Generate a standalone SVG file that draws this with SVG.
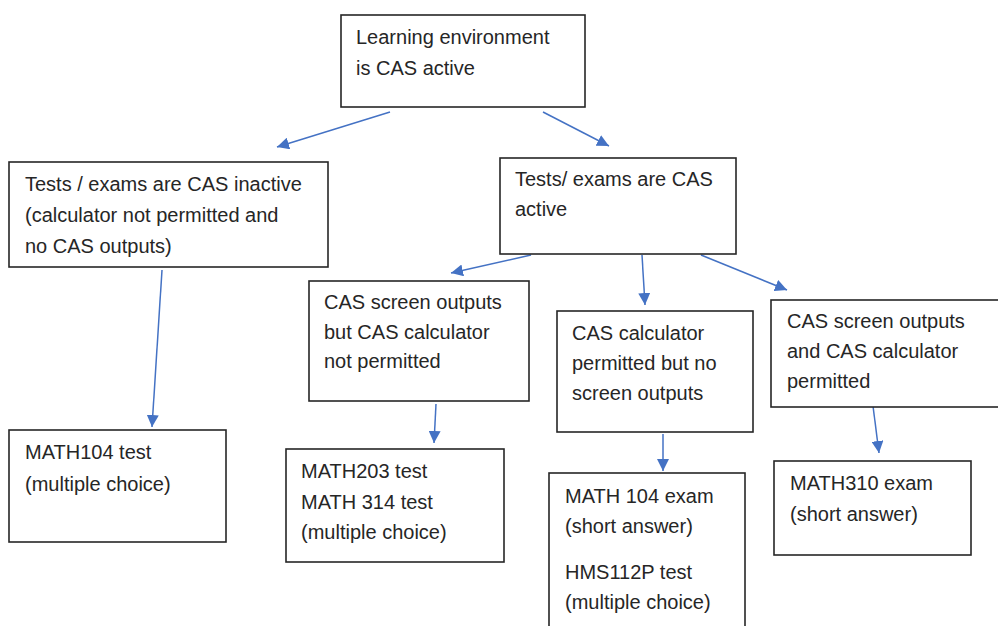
<svg xmlns="http://www.w3.org/2000/svg" width="998" height="626" viewBox="0 0 998 626">
<defs>
<style>
.box{fill:#ffffff;stroke:#262626;stroke-width:1.6}
.t{font-family:"Liberation Sans",Arial,sans-serif;font-size:20px;fill:#262626}
.c{stroke:#4472C4;stroke-width:1.5;fill:none;marker-end:url(#ah)}
</style>
<marker id="ah" markerUnits="userSpaceOnUse" markerWidth="12" markerHeight="12" viewBox="0 0 12 12" refX="12" refY="6" orient="auto">
<path d="M0,0 L12,6 L0,12 z" fill="#4472C4"/>
</marker>
</defs>
<rect width="998" height="626" fill="#ffffff"/>
<g id="connectors">
<line class="c" x1="390" y1="112" x2="277" y2="147"/>
<line class="c" x1="543" y1="112" x2="609" y2="146"/>
<line class="c" x1="162" y1="270" x2="152" y2="427"/>
<line class="c" x1="531" y1="255" x2="451" y2="273"/>
<line class="c" x1="642" y1="255" x2="645" y2="305"/>
<line class="c" x1="701" y1="255" x2="787" y2="290"/>
<line class="c" x1="436" y1="404" x2="434" y2="443"/>
<line class="c" x1="663" y1="434" x2="663" y2="471"/>
<line class="c" x1="873" y1="406" x2="879" y2="453"/>
</g>
<g id="node-root">
<rect class="box" x="341" y="15" width="244" height="92"/>
<text class="t" x="356" y="44">Learning environment</text>
<text class="t" x="356" y="75">is CAS active</text>
</g>
<g id="node-inactive">
<rect class="box" x="9" y="162" width="319" height="105"/>
<text class="t" x="25" y="191">Tests / exams are CAS inactive</text>
<text class="t" x="25" y="222">(calculator not permitted and</text>
<text class="t" x="25" y="253">no CAS outputs)</text>
</g>
<g id="node-active">
<rect class="box" x="500" y="158" width="236" height="96"/>
<text class="t" x="515" y="186">Tests/ exams are CAS</text>
<text class="t" x="515" y="216">active</text>
</g>
<g id="node-screen-no-calc">
<rect class="box" x="309" y="281" width="220" height="120"/>
<text class="t" x="324" y="309">CAS screen outputs</text>
<text class="t" x="324" y="339">but CAS calculator</text>
<text class="t" x="324" y="368">not permitted</text>
</g>
<g id="node-calc-no-screen">
<rect class="box" x="557" y="311" width="196" height="121"/>
<text class="t" x="572" y="340">CAS calculator</text>
<text class="t" x="572" y="370">permitted but no</text>
<text class="t" x="572" y="400">screen outputs</text>
</g>
<g id="node-both">
<rect class="box" x="771" y="300" width="240" height="107"/>
<text class="t" x="787" y="328">CAS screen outputs</text>
<text class="t" x="787" y="358">and CAS calculator</text>
<text class="t" x="787" y="388">permitted</text>
</g>
<g id="node-math104-test">
<rect class="box" x="9" y="430" width="217" height="112"/>
<text class="t" x="25" y="459">MATH104 test</text>
<text class="t" x="25" y="491">(multiple choice)</text>
</g>
<g id="node-math203">
<rect class="box" x="286" y="449" width="218" height="113"/>
<text class="t" x="301" y="478">MATH203 test</text>
<text class="t" x="301" y="509">MATH 314 test</text>
<text class="t" x="301" y="539">(multiple choice)</text>
</g>
<g id="node-math104-exam">
<rect class="box" x="549" y="473" width="196" height="170"/>
<text class="t" x="565" y="503">MATH 104 exam</text>
<text class="t" x="565" y="533">(short answer)</text>
<text class="t" x="565" y="579">HMS112P test</text>
<text class="t" x="565" y="609">(multiple choice)</text>
</g>
<g id="node-math310">
<rect class="box" x="774" y="461" width="197" height="94"/>
<text class="t" x="790" y="490">MATH310 exam</text>
<text class="t" x="790" y="521">(short answer)</text>
</g>
</svg>
